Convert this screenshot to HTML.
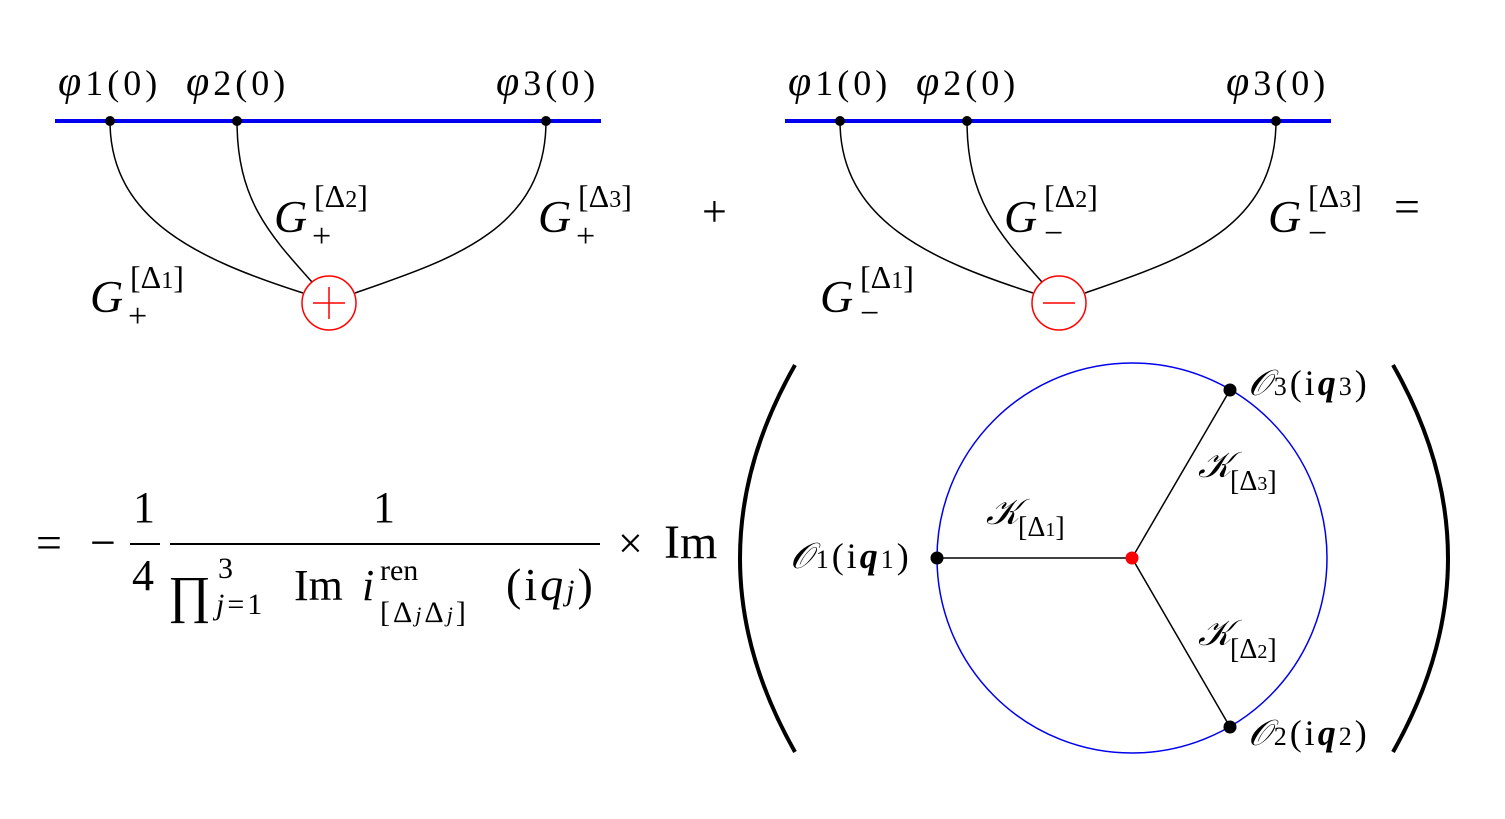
<!DOCTYPE html>
<html><head><style>
body{margin:0;background:#fff}
svg{display:block}
text{font-family:"Liberation Serif","DejaVu Serif",serif;fill:#000}
.i{font-style:italic}
.ls{letter-spacing:4px}
.lo{letter-spacing:3px}
</style></head><body>
<svg width="1505" height="819" viewBox="0 0 1505 819" xmlns="http://www.w3.org/2000/svg">
<g>
<line x1="55" y1="121" x2="601" y2="121" stroke="#0000ee" stroke-width="4"/>
<path d="M110 121 C110 220 200 260 303 293" fill="none" stroke="#000" stroke-width="1.5"/>
<path d="M237 121 C237 200 270 235 312 282" fill="none" stroke="#000" stroke-width="1.5"/>
<path d="M546 121 C546 230 450 260 355 293" fill="none" stroke="#000" stroke-width="1.5"/>
<circle cx="110" cy="121" r="5"/><circle cx="237" cy="121" r="5"/><circle cx="546" cy="121" r="5"/>
<circle cx="329" cy="303" r="27" fill="#fff" stroke="#ff0000" stroke-width="1.5"/>
<line x1="313" y1="303" x2="345" y2="303" stroke="#ff0000" stroke-width="1.5"/>
<line x1="329" y1="287" x2="329" y2="319" stroke="#ff0000" stroke-width="1.5"/>
<text x="58" y="95" font-size="42" class="ls"><tspan class="i">φ</tspan><tspan font-size="36">1(0)</tspan></text>
<text x="186" y="95" font-size="42" class="ls"><tspan class="i">φ</tspan><tspan font-size="36">2(0)</tspan></text>
<text x="496" y="95" font-size="42" class="ls"><tspan class="i">φ</tspan><tspan font-size="36">3(0)</tspan></text>
<text x="90" y="312" font-size="46" class="i">G</text><text x="130" y="288" font-size="32">[Δ<tspan font-size="24">1</tspan>]</text><text x="128" y="327" font-size="34">+</text>
<text x="274" y="232" font-size="46" class="i">G</text><text x="314" y="207" font-size="32">[Δ<tspan font-size="24">2</tspan>]</text><text x="312" y="247" font-size="34">+</text>
<text x="538" y="232" font-size="46" class="i">G</text><text x="578" y="207" font-size="32">[Δ<tspan font-size="24">3</tspan>]</text><text x="576" y="247" font-size="34">+</text>
</g>
<text x="702" y="226" font-size="44">+</text>
<g transform="translate(730,0)">
<line x1="55" y1="121" x2="601" y2="121" stroke="#0000ee" stroke-width="4"/>
<path d="M110 121 C110 220 200 260 303 293" fill="none" stroke="#000" stroke-width="1.5"/>
<path d="M237 121 C237 200 270 235 312 282" fill="none" stroke="#000" stroke-width="1.5"/>
<path d="M546 121 C546 230 450 260 355 293" fill="none" stroke="#000" stroke-width="1.5"/>
<circle cx="110" cy="121" r="5"/><circle cx="237" cy="121" r="5"/><circle cx="546" cy="121" r="5"/>
<circle cx="329" cy="303" r="27" fill="#fff" stroke="#ff0000" stroke-width="1.5"/>
<line x1="313" y1="303" x2="345" y2="303" stroke="#ff0000" stroke-width="1.5"/>
<text x="58" y="95" font-size="42" class="ls"><tspan class="i">φ</tspan><tspan font-size="36">1(0)</tspan></text>
<text x="186" y="95" font-size="42" class="ls"><tspan class="i">φ</tspan><tspan font-size="36">2(0)</tspan></text>
<text x="496" y="95" font-size="42" class="ls"><tspan class="i">φ</tspan><tspan font-size="36">3(0)</tspan></text>
<text x="90" y="312" font-size="46" class="i">G</text><text x="130" y="288" font-size="32">[Δ<tspan font-size="24">1</tspan>]</text><text x="130" y="324" font-size="34">−</text>
<text x="274" y="232" font-size="46" class="i">G</text><text x="314" y="207" font-size="32">[Δ<tspan font-size="24">2</tspan>]</text><text x="314" y="244" font-size="34">−</text>
<text x="538" y="232" font-size="46" class="i">G</text><text x="578" y="207" font-size="32">[Δ<tspan font-size="24">3</tspan>]</text><text x="578" y="244" font-size="34">−</text>
</g>
<text x="1394" y="222" font-size="46">=</text>
<text x="36" y="558" font-size="46">=</text>
<text x="90" y="558" font-size="46">−</text>
<line x1="130" y1="544" x2="160" y2="544" stroke="#000" stroke-width="2"/>
<text x="133" y="522" font-size="44">1</text>
<text x="132" y="590" font-size="44">4</text>
<line x1="170" y1="544" x2="600" y2="544" stroke="#000" stroke-width="2"/>
<text x="373" y="522" font-size="44">1</text>
<text x="168" y="612" font-size="52">∏</text>
<text x="218" y="578" font-size="30">3</text>
<text x="216" y="614" font-size="30" class="lo"><tspan class="i">j</tspan>=1</text>
<text x="294" y="600" font-size="44">Im</text>
<text x="362" y="600" font-size="44" class="i">i</text>
<text x="380" y="580" font-size="30">ren</text>
<text x="380" y="622" font-size="30" class="lo">[Δ<tspan class="i" font-size="22">j</tspan>Δ<tspan class="i" font-size="22">j</tspan>]</text>
<text x="506" y="600" font-size="46" class="lo">(i<tspan class="i">q</tspan><tspan class="i" font-size="30">j</tspan>)</text>
<text x="618" y="558" font-size="44">×</text>
<text x="664" y="558" font-size="48">Im</text>
<path d="M795 365 Q685 558 795 752" fill="none" stroke="#000" stroke-width="4"/>
<path d="M1393 365 Q1503 558 1393 752" fill="none" stroke="#000" stroke-width="4"/>
<circle cx="1132" cy="558" r="195" fill="none" stroke="#0000ee" stroke-width="1.5"/>
<line x1="937" y1="558" x2="1132" y2="558" stroke="#000" stroke-width="1.5"/>
<line x1="1132" y1="558" x2="1230" y2="390" stroke="#000" stroke-width="1.5"/>
<line x1="1132" y1="558" x2="1230" y2="727" stroke="#000" stroke-width="1.5"/>
<circle cx="937" cy="558" r="6.5"/><circle cx="1230" cy="390" r="6.5"/><circle cx="1230" cy="727" r="6.5"/>
<circle cx="1132" cy="558" r="6.5" fill="#ff0000"/>
<text x="790" y="568" font-size="36" class="lo"><tspan class="i">𝒪</tspan><tspan font-size="26">1</tspan>(i<tspan font-weight="bold" class="i">q</tspan><tspan font-size="26">1</tspan>)</text>
<text x="1248" y="395" font-size="36" class="lo"><tspan class="i">𝒪</tspan><tspan font-size="26">3</tspan>(i<tspan font-weight="bold" class="i">q</tspan><tspan font-size="26">3</tspan>)</text>
<text x="1248" y="745" font-size="36" class="lo"><tspan class="i">𝒪</tspan><tspan font-size="26">2</tspan>(i<tspan font-weight="bold" class="i">q</tspan><tspan font-size="26">2</tspan>)</text>
<text x="986" y="524" font-size="36" class="i">𝒦</text><text x="1018" y="536" font-size="28">[Δ<tspan font-size="20">1</tspan>]</text>
<text x="1198" y="477" font-size="36" class="i">𝒦</text><text x="1230" y="490" font-size="28">[Δ<tspan font-size="20">3</tspan>]</text>
<text x="1198" y="645" font-size="36" class="i">𝒦</text><text x="1230" y="658" font-size="28">[Δ<tspan font-size="20">2</tspan>]</text>
</svg>
</body></html>
